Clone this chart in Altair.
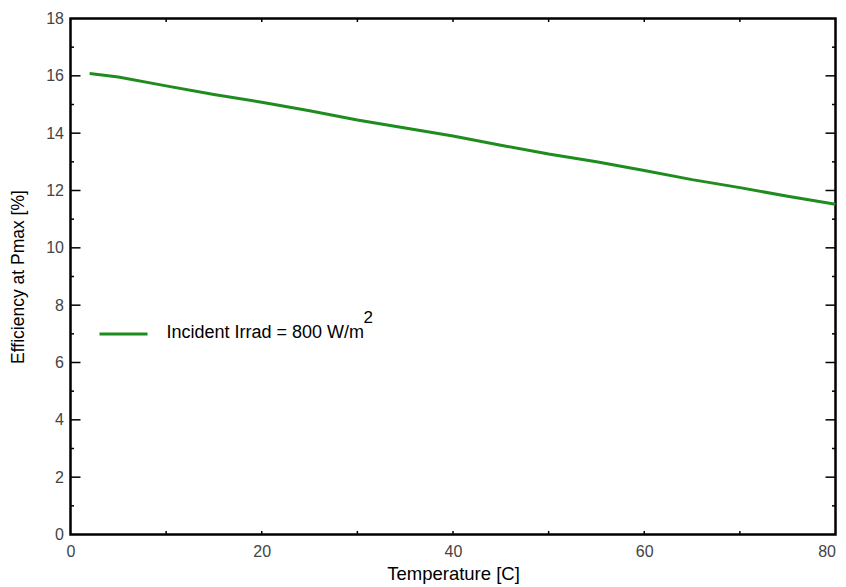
import altair as alt
import pandas as pd

# ---- data ----
temperature = [2, 5, 10, 15, 20, 25, 30, 35, 40, 45, 50, 55, 60, 65, 70, 75, 80]
efficiency = [16.08, 15.96, 15.65, 15.35, 15.08, 14.78, 14.46, 14.18, 13.90,
              13.58, 13.27, 13.00, 12.70, 12.38, 12.10, 11.80, 11.52]
x_labels = [0, 20, 40, 60, 80]
y_labels = [0, 2, 4, 6, 8, 10, 12, 14, 16, 18]
y_major = [2, 4, 6, 8, 10, 12, 14, 16]
y_minor = [1, 3, 5, 7, 9, 11, 13, 15, 17]
x_ticks = [10, 20, 30, 40, 50, 60, 70]
legend_label = "Incident Irrad = 800 W/m"
legend_sup = "2"
x_title = "Temperature [C]"
y_title = "Efficiency at Pmax [%]"

W, H = 765, 516
GREEN = "#1f8c1f"
FONT = "Liberation Sans"

df = pd.DataFrame({"t": temperature, "e": efficiency})
xs = alt.Scale(domain=[0, 80], nice=False, zero=False)
ys = alt.Scale(domain=[0, 18], nice=False)

x_axis = alt.Axis(
    title=x_title, values=x_labels, ticks=False, tickSize=0, domain=False,
    grid=False, labelPadding=9, labelFontSize=16, labelColor="#444",
    labelAlign={"condition": {"test": "datum.value >= 80", "value": "right"},
                "value": "center"},
    labelFlush=False, labelOverlap=False, titleFontSize=18.5,
    titleFontWeight="normal", titleColor="black", titlePadding=5,
    labelFont=FONT, titleFont=FONT)
y_axis = alt.Axis(
    title=y_title, values=y_labels, ticks=False, tickSize=0, domain=False,
    grid=False, labelPadding=7, labelFontSize=16, labelColor="#444",
    labelFlush=False, labelOverlap=False, titleFontSize=17.5,
    titleFontWeight="normal", titleColor="black", titlePadding=18,
    labelFont=FONT, titleFont=FONT)

line = alt.Chart(df).mark_line(color=GREEN, strokeWidth=3).encode(
    x=alt.X("t:Q", scale=xs, axis=x_axis),
    y=alt.Y("e:Q", scale=ys, axis=y_axis),
)

ymaj = pd.DataFrame({"e": y_major})
ymin = pd.DataFrame({"e": y_minor})
xt = pd.DataFrame({"t": x_ticks})


def yrule(data, x0, x1):
    return alt.Chart(data).mark_rule(color="black", strokeWidth=1.5).encode(
        y=alt.Y("e:Q", scale=ys, axis=y_axis), x=alt.value(x0), x2=alt.value(x1))


def xrule(data, y0, y1):
    return alt.Chart(data).mark_rule(color="black", strokeWidth=1.5).encode(
        x=alt.X("t:Q", scale=xs, axis=x_axis), y=alt.value(y0), y2=alt.value(y1))


ticks = [
    yrule(ymaj, 0, 10), yrule(ymaj, W - 10, W),
    yrule(ymin, 0, 3.5), yrule(ymin, W - 3.5, W),
    xrule(xt, H - 3.5, H), xrule(xt, 0, 3.5),
]

one = pd.DataFrame({"label": [legend_label], "sup": [legend_sup]})
leg_line = alt.Chart(one).mark_rule(color=GREEN, strokeWidth=3).encode(
    x=alt.value(29), x2=alt.value(77), y=alt.value(315.5))
leg_text = alt.Chart(one).mark_text(
    align="left", baseline="middle", fontSize=18, font=FONT, color="black"
).encode(x=alt.value(96), y=alt.value(314), text="label:N")
leg_sup = alt.Chart(one).mark_text(
    align="left", baseline="middle", fontSize=17, font=FONT, color="black"
).encode(x=alt.value(293), y=alt.value(299), text="sup:N")

chart = alt.layer(line, *ticks, leg_line, leg_text, leg_sup).properties(
    width=W, height=H,
    background="white",
    autosize=alt.AutoSizeParams(type="none"),
    padding={"left": 62.5, "top": 10.5, "right": 2.5, "bottom": 52},
).configure_view(
    stroke="black", strokeWidth=2.5
)

chart.save("out.html", embed_options={"renderer": "svg", "actions": False})
